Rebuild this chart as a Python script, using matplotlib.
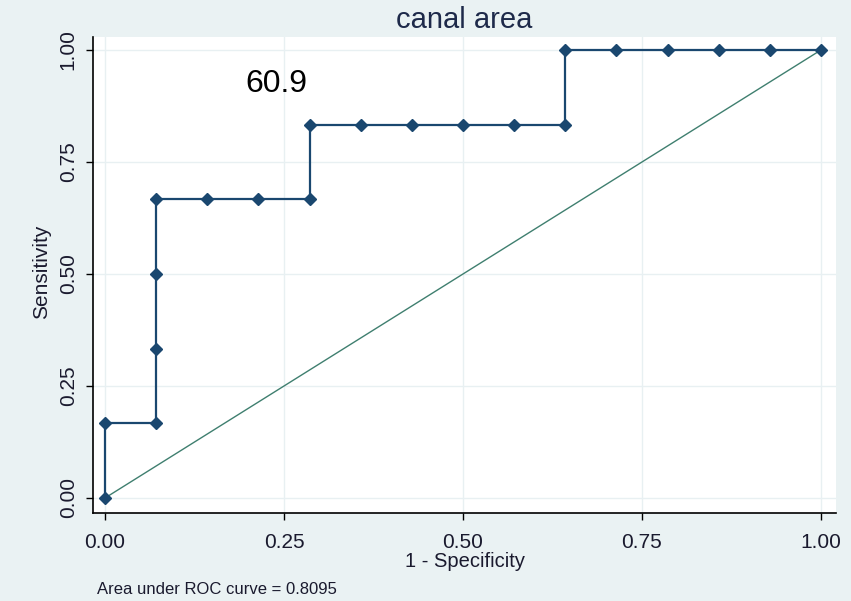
import matplotlib
matplotlib.use("Agg")
import matplotlib.pyplot as plt

fpr = [0, 0, 1/14, 1/14, 1/14, 1/14, 2/14, 3/14, 4/14, 4/14, 5/14, 6/14, 7/14, 8/14,
       9/14, 9/14, 10/14, 11/14, 12/14, 13/14, 1]
tpr = [0, 1/6, 1/6, 2/6, 3/6, 4/6, 4/6, 4/6, 4/6, 5/6, 5/6, 5/6, 5/6, 5/6,
       5/6, 1, 1, 1, 1, 1, 1]
ticks = [0, 0.25, 0.5, 0.75, 1.0]
tick_labels = ["0.00", "0.25", "0.50", "0.75", "1.00"]

plt.rcParams['font.family'] = ['Liberation Sans', 'DejaVu Sans']
bg = '#eaf2f3'
W, H = 851, 601
fig = plt.figure(figsize=(8.51, 6.01), dpi=100, facecolor=bg)
ax = fig.add_axes([93/W, 1 - 513/H, (836-93)/W, (513-37)/H])
ax.set_facecolor('white')

ax.plot([0, 1], [0, 1], color='#3f7f6f', lw=1.0, zorder=2)
ax.plot(fpr, tpr, color='#1a476f', lw=1.6, marker='D', ms=6, mfc='#1a476f',
        mec='#1a476f', zorder=3)

ax.set_xlim(-0.0168, 1.021)
ax.set_ylim(-0.0335, 1.029)
ax.set_xticks(ticks)
ax.set_xticklabels(tick_labels, fontsize=15)
ax.set_yticks(ticks)
ax.set_yticklabels(tick_labels, fontsize=15, rotation=90, va='center')
ax.grid(True, color='#e8f0f2', lw=1.0)
ax.set_axisbelow(True)
for s in ['top', 'right']:
    ax.spines[s].set_visible(False)
for s in ['left', 'bottom']:
    ax.spines[s].set_color('black')
    ax.spines[s].set_linewidth(1.2)
ax.tick_params(length=5, width=1, color='black', labelcolor='#1a1a2e')
ax.tick_params(axis='x', pad=9.5)
ax.tick_params(axis='y', pad=6)

ax.set_title('canal area', fontsize=21, color='#1e2a4a', pad=6.5)
fig.text(465/W, 1 - 567/H, '1 - Specificity', fontsize=14.5, ha='center',
         va='baseline', color='#1a1a2e')
fig.text(42/W, 1 - 272/H, 'Sensitivity', fontsize=15, ha='center', va='center',
         rotation=90, color='#1a1a2e')
ax.text(0.1955, 0.906, '60.9', fontsize=23, color='black', ha='left', va='baseline')
fig.text(97/W, 1 - 590/H, 'Area under ROC curve = 0.8095', fontsize=12,
         ha='left', va='center', color='#1a1a2e')

fig.savefig('out.png', dpi=100, facecolor=bg)
